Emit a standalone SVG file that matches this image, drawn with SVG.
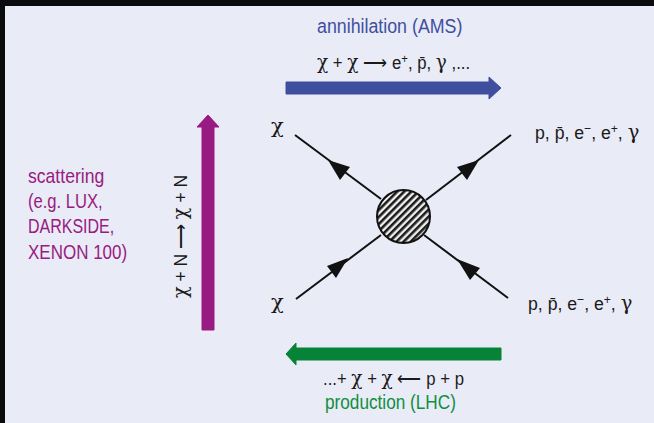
<svg xmlns="http://www.w3.org/2000/svg" width="654" height="423" viewBox="0 0 654 423">
<style>
text{font-family:"Liberation Sans",Arial,sans-serif;font-size:19px;fill:#1a1a1a}
.g{font-family:"DejaVu Serif","Liberation Serif",serif;font-size:21px}
.lab{font-size:20px}
.ln{stroke:#111;stroke-width:2;fill:none}
.hd{fill:#111}
.sup{font-size:13px}
.blue{fill:#3f4f9f}
.green{fill:#0f8f40}
.purple{fill:#981b82}
</style>
<defs>
<pattern id="hatch" width="5" height="5" patternUnits="userSpaceOnUse" patternTransform="rotate(-45)">
<rect width="5" height="5" fill="#f0f0f0"/>
<rect width="5" height="2.6" fill="#1c1c1c"/>
</pattern>
</defs>
<rect width="654" height="423" fill="#0b0b0d"/>
<rect x="5" y="6" width="649" height="417" fill="#e9ebf6"/>
<g id="connectors">
<line class="ln" x1="295" y1="135" x2="381" y2="199"/>
<polygon class="hd" points="328,160 350,167 340,180"/>
<line class="ln" x1="511" y1="135" x2="426" y2="200"/>
<polygon class="hd" points="479,160 457,167 467,180"/>
<line class="ln" x1="296" y1="299" x2="381" y2="235"/>
<polygon class="hd" points="348,258 327,266 336,278"/>
<line class="ln" x1="508" y1="298" x2="424" y2="235"/>
<polygon class="hd" points="457,259 480,268 470,280"/>
</g>
<g id="arrow-annihilation"><path d="M286 82 H489 V77 L501 88 L489 99 V94 H286 Z" fill="#3f4f9f" stroke="#3f4f9f" stroke-linejoin="round"/></g>
<g id="arrow-production"><path d="M501 348 H296 V343 L286 354 L296 365 V360 H501 Z" fill="#078338" stroke="#078338" stroke-linejoin="round"/></g>
<g id="arrow-scattering"><path d="M202 330 V127 H197 L208 115 L219 127 H214 V330 Z" fill="#981b82" stroke="#981b82" stroke-linejoin="round"/></g>
<g id="node-vertex"><circle cx="403.5" cy="216.5" r="26.5" fill="url(#hatch)" stroke="#111" stroke-width="2"/></g>
<g id="label-annihilation"><text class="lab blue" transform="translate(317,33) scale(.89,1)">annihilation (AMS)</text></g>
<g id="eq-annihilation"><text transform="translate(317,69) scale(.88,1)"><tspan class="g">χ</tspan> + <tspan class="g">χ</tspan> ⟶ e<tspan class="sup" dy="-6">+</tspan><tspan dy="6">, </tspan>p̄, <tspan class="g">γ</tspan> ,...</text></g>
<g id="label-chi-top"><text x="271" y="133" class="g">χ</text></g>
<g id="label-out-top"><text transform="translate(535,139) scale(.93,1)">p, p̄, e<tspan class="sup" dy="-6">−</tspan><tspan dy="6">, e</tspan><tspan class="sup" dy="-6">+</tspan><tspan dy="6">, </tspan><tspan class="g">γ</tspan></text></g>
<g id="label-chi-bottom"><text x="271" y="309" class="g">χ</text></g>
<g id="label-out-bottom"><text transform="translate(528,310) scale(.93,1)">p, p̄, e<tspan class="sup" dy="-6">−</tspan><tspan dy="6">, e</tspan><tspan class="sup" dy="-6">+</tspan><tspan dy="6">, </tspan><tspan class="g">γ</tspan></text></g>
<g id="eq-production"><text transform="translate(323,385) scale(.88,1)">...+ <tspan class="g">χ</tspan> + <tspan class="g">χ</tspan> ⟵ p + p</text></g>
<g id="label-production"><text class="lab green" transform="translate(325,409) scale(.86,1)">production (LHC)</text></g>
<g id="label-scattering">
<text class="lab purple" transform="translate(28,183) scale(.88,1)">scattering</text>
<text class="lab purple" transform="translate(28,208) scale(.83,1)">(e.g. LUX,</text>
<text class="lab purple" transform="translate(28,233) scale(.8,1)">DARKSIDE,</text>
<text class="lab purple" transform="translate(28,259) scale(.85,1)">XENON 100)</text>
</g>
<g id="eq-scattering"><text transform="translate(187,298) rotate(-90) scale(.92,1)"><tspan class="g">χ</tspan> + N ⟶ <tspan class="g">χ</tspan> + N</text></g>
</svg>
